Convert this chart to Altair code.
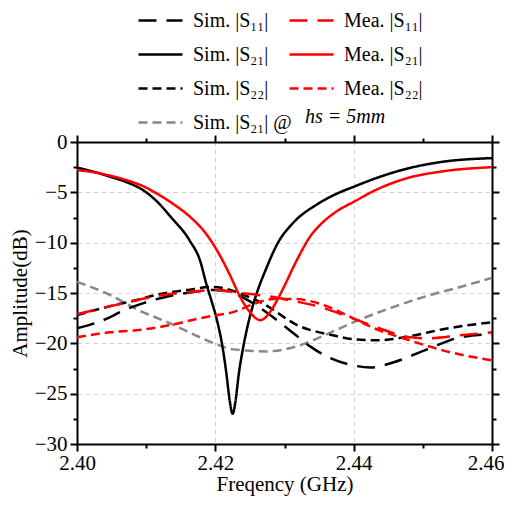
import altair as alt
import pandas as pd

FONT = "Liberation Serif"

# ---- data ----
sim_s11_f = [2.400, 2.4048, 2.4062, 2.4096, 2.4134, 2.4168, 2.4197, 2.4215, 2.4236, 2.4265, 2.4289, 2.4313, 2.4337, 2.4361, 2.4400, 2.4424, 2.4457, 2.4506, 2.4554, 2.4600]
sim_s11_v = [-18.5, -17.4, -16.9, -16.0, -15.3, -14.9, -14.7, -14.8, -15.3, -16.5, -17.7, -19.0, -20.3, -21.3, -22.2, -22.4, -21.9, -20.6, -19.4, -19.1]

sim_s21_f = [2.400, 2.4024, 2.4048, 2.4072, 2.4096, 2.4117, 2.4135, 2.4163, 2.4178, 2.4187, 2.4195, 2.4202, 2.4210, 2.4216, 2.4221, 2.4225, 2.4229, 2.4234, 2.4240, 2.4245, 2.4252, 2.4260, 2.4274, 2.4289, 2.4313, 2.4347, 2.4380, 2.4400, 2.4428, 2.4477, 2.4525, 2.4600]
sim_s21_v = [-2.55, -2.95, -3.45, -4.0, -4.8, -6.0, -7.4, -9.8, -11.8, -14.1, -15.9, -17.6, -20.2, -23.0, -25.8, -27.0, -25.8, -23.0, -20.5, -18.8, -16.8, -15.0, -12.5, -10.2, -8.0, -6.2, -5.0, -4.45, -3.7, -2.65, -2.0, -1.6]

sim_s22_f = [2.400, 2.4048, 2.4086, 2.4120, 2.4159, 2.4197, 2.4226, 2.4245, 2.4265, 2.4322, 2.4370, 2.4400, 2.4433, 2.4481, 2.4529, 2.4600]
sim_s22_v = [-17.2, -16.3, -15.7, -15.1, -14.7, -14.4, -14.8, -15.3, -15.9, -18.3, -19.2, -19.6, -19.7, -19.3, -18.6, -17.9]

sim_hs_f = [2.400, 2.4048, 2.4086, 2.4134, 2.4178, 2.4202, 2.4226, 2.4274, 2.4322, 2.4361, 2.4400, 2.4457, 2.4506, 2.4554, 2.4600]
sim_hs_v = [-13.9, -15.2, -16.6, -18.0, -19.4, -20.1, -20.6, -20.8, -20.2, -19.1, -17.9, -16.4, -15.3, -14.4, -13.5]

mea_s11_f = [2.400, 2.4062, 2.4134, 2.4163, 2.4202, 2.4236, 2.4274, 2.4313, 2.4347, 2.4390, 2.4433, 2.4481, 2.4506, 2.4554, 2.4600]
mea_s11_v = [-17.1, -16.1, -15.1, -14.9, -14.7, -15.0, -15.3, -15.8, -16.3, -17.3, -18.4, -19.4, -19.5, -19.2, -18.9]

mea_s21_f = [2.400, 2.4024, 2.4048, 2.4072, 2.4096, 2.4115, 2.4139, 2.4163, 2.4187, 2.4206, 2.4221, 2.4236, 2.4250, 2.4265, 2.4281, 2.4291, 2.4302, 2.4313, 2.4325, 2.4337, 2.4352, 2.4371, 2.4404, 2.4428, 2.4477, 2.4525, 2.4600]
mea_s21_v = [-2.8, -3.0, -3.35, -3.8, -4.4, -5.1, -6.15, -7.4, -9.15, -11.2, -13.2, -15.4, -16.9, -17.7, -16.7, -15.5, -14.0, -12.4, -10.8, -9.4, -8.2, -7.1, -5.8, -4.9, -3.6, -2.95, -2.5]

mea_s22_f = [2.400, 2.4048, 2.4086, 2.4134, 2.4178, 2.4202, 2.4226, 2.4255, 2.4284, 2.4313, 2.4361, 2.4390, 2.4433, 2.4481, 2.4529, 2.4600]
mea_s22_v = [-19.4, -18.9, -18.7, -18.2, -17.5, -17.2, -16.9, -16.1, -15.6, -15.6, -16.3, -17.2, -18.6, -19.7, -20.7, -21.7]

sim_names = ["Sim. |S\u2081\u2081|", "Sim. |S\u2082\u2081|", "Sim. |S\u2082\u2082|", "Sim. |S\u2082\u2081| @"]
mea_names = ["Mea. |S\u2081\u2081|", "Mea. |S\u2082\u2081|", "Mea. |S\u2082\u2082|"]
sim_colors = ["black", "black", "black", "#888888"]
mea_colors = ["#ff0000", "#ff0000", "#ff0000"]
sim_dashes = [[18, 10], [1, 0], [9, 5], [9, 5]]
mea_dashes = [[18, 10], [1, 0], [9, 5]]

rows = []
def add(name, group, order, fs, vs):
    for f, v in zip(fs, vs):
        rows.append({"freq": f, "amp": v, "series": name, "group": group, "ord": order})

add(sim_names[3], "Sim", 0, sim_hs_f, sim_hs_v)
add(sim_names[0], "Sim", 1, sim_s11_f, sim_s11_v)
add(sim_names[2], "Sim", 2, sim_s22_f, sim_s22_v)
add(sim_names[1], "Sim", 3, sim_s21_f, sim_s21_v)
add(mea_names[0], "Mea", 4, mea_s11_f, mea_s11_v)
add(mea_names[2], "Mea", 5, mea_s22_f, mea_s22_v)
add(mea_names[1], "Mea", 6, mea_s21_f, mea_s21_v)
df = pd.DataFrame(rows)

x_scale = alt.Scale(domain=[2.40, 2.46], nice=False, zero=False)
y_scale = alt.Scale(domain=[-30, 0], nice=False, zero=False)

x_major = [2.40, 2.42, 2.44, 2.46]
x_minor = [2.41, 2.43, 2.45]
y_major = [-30, -25, -20, -15, -10, -5, 0]
y_minor = [-27.5, -22.5, -17.5, -12.5, -7.5, -2.5]

main_x = alt.Axis(values=x_major, format=".2f", title="Freqency (GHz)", grid=True,
                  gridDash=[4, 4], gridColor="#cfcfcf", gridWidth=1, tickSize=7,
                  labelPadding=1, titlePadding=0, labelFlush=False,
                  labelAlign={"condition": {"test": "datum.value > 2.455", "value": "right"}, "value": "center"},
                  labelOffset={"condition": {"test": "datum.value > 2.455", "value": 12}, "value": 0},
                  labelFont=FONT, titleFont=FONT, labelFontSize=21, titleFontSize=21)
main_y = alt.Axis(values=y_major, format="d", title="Amplitude(dB)", grid=True,
                  gridDash=[4, 4], gridColor="#cfcfcf", gridWidth=1, tickSize=7,
                  labelPadding=3, titlePadding=4, labelFlush=False,
                  labelFont=FONT, titleFont=FONT, labelFontSize=21, titleFontSize=21)

def legend(x):
    return alt.Legend(orient="none", legendX=x, legendY=-145, title=None,
                      symbolType="stroke", symbolSize=1936, symbolStrokeWidth=2.5,
                      labelFont=FONT, labelFontSize=20, labelColor="black",
                      labelOffset=9, rowPadding=0, padding=0, labelLimit=300)

sim_leg = legend(60)
mea_leg = legend(211)

sim_layer = alt.Chart(df).transform_filter(alt.datum.group == "Sim").mark_line(
    strokeWidth=2.5, interpolate="monotone").encode(
    x=alt.X("freq:Q", scale=x_scale, axis=main_x),
    y=alt.Y("amp:Q", scale=y_scale, axis=main_y),
    color=alt.Color("series:N", scale=alt.Scale(domain=sim_names, range=sim_colors), legend=sim_leg),
    strokeDash=alt.StrokeDash("series:N", scale=alt.Scale(domain=sim_names, range=sim_dashes), legend=sim_leg),
    order="ord:Q",
)

mea_layer = alt.Chart(df).transform_filter(alt.datum.group == "Mea").mark_line(
    strokeWidth=2.5, interpolate="monotone").encode(
    x=alt.X("freq:Q", scale=x_scale, axis=None),
    y=alt.Y("amp:Q", scale=y_scale, axis=None),
    color=alt.Color("series:N", scale=alt.Scale(domain=mea_names, range=mea_colors), legend=mea_leg),
    strokeDash=alt.StrokeDash("series:N", scale=alt.Scale(domain=mea_names, range=mea_dashes), legend=mea_leg),
)

def axis_layer(xaxis, yaxis):
    return alt.Chart(df).mark_point(opacity=0, size=1).encode(
        x=alt.X("freq:Q", scale=x_scale, axis=xaxis),
        y=alt.Y("amp:Q", scale=y_scale, axis=yaxis),
    )

mirror_major = axis_layer(
    alt.Axis(orient="top", values=x_major, labels=False, title=None, grid=False, tickSize=7),
    alt.Axis(orient="right", values=y_major, labels=False, title=None, grid=False, tickSize=7),
)
main_minor = axis_layer(
    alt.Axis(orient="bottom", values=x_minor, labels=False, title=None, grid=False, tickSize=4, domain=False),
    alt.Axis(orient="left", values=y_minor, labels=False, title=None, grid=False, tickSize=4, domain=False),
)
mirror_minor = axis_layer(
    alt.Axis(orient="top", values=x_minor, labels=False, title=None, grid=False, tickSize=4, domain=False),
    alt.Axis(orient="right", values=y_minor, labels=False, title=None, grid=False, tickSize=4, domain=False),
)

italic_part = alt.Chart(pd.DataFrame({"t": ["hs = 5mm"]})).mark_text(
    font=FONT, fontSize=20, fontStyle="italic", align="left", baseline="middle", color="black"
).encode(x=alt.value(228), y=alt.value(-25), text="t:N")

chart = alt.layer(sim_layer, mea_layer, mirror_major, main_minor, mirror_minor, italic_part).resolve_scale(
    color="independent", strokeDash="independent"
).resolve_axis(x="independent", y="independent").properties(
    width=415, height=302,
    autosize=alt.AutoSizeParams(type="none"),
    padding={"left": 69, "top": 134, "right": 12, "bottom": 54},
).configure(
    font=FONT,
    style={"guide-label": {"font": FONT}, "guide-title": {"font": FONT}},
).configure_axis(
    domainColor="black", domainWidth=2, tickColor="black", tickWidth=2,
    labelFont=FONT, titleFont=FONT, labelFontSize=21, titleFontSize=21,
    titleFontWeight="normal", labelColor="black", titleColor="black", labelFlush=False,
).configure_legend(labelFont=FONT).configure_view(stroke=None)

chart.save("out.html", embed_options={"renderer": "svg", "actions": False})
